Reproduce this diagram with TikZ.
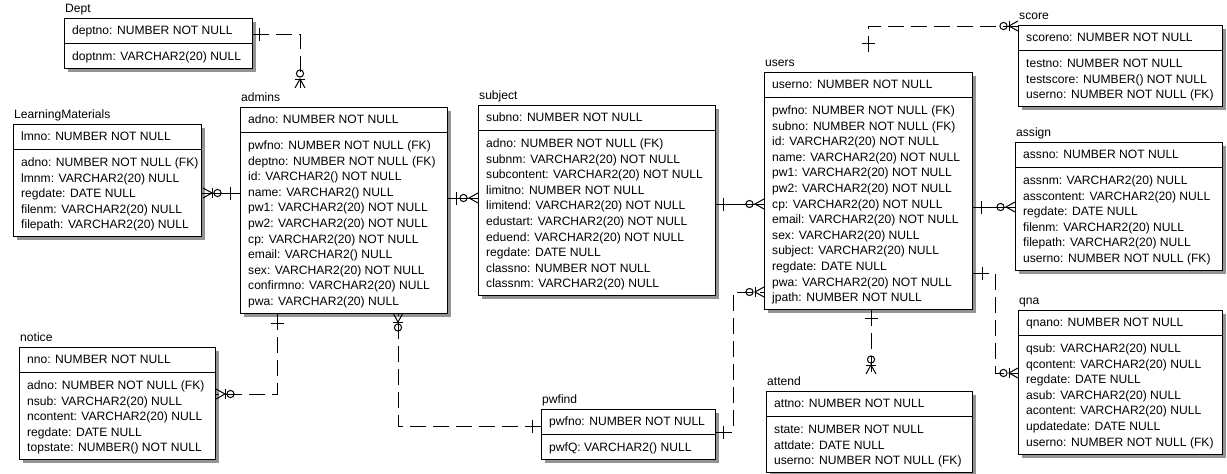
\documentclass[tikz,border=0pt]{standalone}
\usepackage{fontspec}
\setmainfont{Liberation Sans}
\tikzset{
  ebox/.style={draw=black, line width=1pt, fill=white, inner sep=0pt, anchor=north west},
  eshadow/.style={fill=black!42},
  etext/.style={font=\fontsize{12.1}{15.6}\selectfont, inner sep=0pt, anchor=base west, text=black},
  rel/.style={draw=black, line width=1pt},
  nonid/.style={rel, dash pattern=on 16pt off 7pt},
  sym/.style={draw=black, line width=1pt},
}
% entity: #1 id, #2 title, #3 left, #4 top, #5 right, #6 rows, #7 header, #8 body
\newcommand\erent[8]{%
  \pgfmathsetmacro\eB{#4+50+(#6-1)*15.6}%
  \pgfmathsetmacro\eW{#5-#3}%
  \pgfmathsetmacro\eH{\eB-#4}%
  \fill[eshadow] (#3+4,#4+4) rectangle (#5+4,\eB+4);
  \node[ebox, minimum width=\eW pt, minimum height=\eH pt] (#1) at (#3,#4) {};
  \draw[line width=1pt] (#3,#4+25) -- (#5,#4+25);
  \node[etext] (#1-t) at (#3+1,#4-6) {#2};
  \node[etext] (#1-h) at (#3+8,#4+16.9) {#7};
  \foreach \t [count=\i] in {#8} {\node[etext] (#1-\i) at (#3+8,#4+42.4+\i*15.6-15.6) {\t};}
}
% one-end tick on a horizontal line / vertical line
\newcommand\tickH[2]{\draw[sym] (#1,#2-6.5) -- (#1,#2+6.5);}
\newcommand\tickV[2]{\draw[sym] (#1-6.5,#2) -- (#1+6.5,#2);}
% many-end: #1 edge x, #2 y, #3 sign, #4 bar (1/0)
\newcommand\crowH[4]{%
  \draw[sym] (#1,#2-5) -- (#1+#3*9,#2) -- (#1,#2+5);
  \ifnum#4=1 \draw[sym] (#1+#3*9,#2-5) -- (#1+#3*9,#2+5);\fi
  \draw[sym] (#1+#3*14.5,#2) circle (3.6);}
\newcommand\crowV[4]{%
  \draw[sym] (#1-5,#2) -- (#1,#2+#3*9) -- (#1+5,#2);
  \ifnum#4=1 \draw[sym] (#1-5,#2+#3*9) -- (#1+5,#2+#3*9);\fi
  \draw[sym] (#1,#2+#3*14.5) circle (3.6);}
\begin{document}
\begin{tikzpicture}[x=1pt,y=-1pt]
\useasboundingbox (0,0) rectangle (1227,474);
\fill[white] (0,0) rectangle (1227,474);

\erent{dept}{Dept}{64}{18}{252}{1}{deptno: NUMBER NOT NULL}{doptnm: VARCHAR2(20) NULL}
\erent{lm}{LearningMaterials}{13}{124}{201}{5}{lmno: NUMBER NOT NULL}{adno: NUMBER NOT NULL (FK), lmnm: VARCHAR2(20) NULL, regdate: DATE NULL, filenm: VARCHAR2(20) NULL, filepath: VARCHAR2(20) NULL}
\erent{admins}{admins}{240}{107}{447}{11}{adno: NUMBER NOT NULL}{pwfno: NUMBER NOT NULL (FK), deptno: NUMBER NOT NULL (FK), id: VARCHAR2() NOT NULL, name: VARCHAR2() NULL, pw1: VARCHAR2(20) NOT NULL, pw2: VARCHAR2(20) NOT NULL, cp: VARCHAR2(20) NOT NULL, email: VARCHAR2() NULL, sex: VARCHAR2(20) NOT NULL, confirmno: VARCHAR2(20) NULL, pwa: VARCHAR2(20) NULL}
\erent{notice}{notice}{19}{347}{215}{5}{nno: NUMBER NOT NULL}{adno: NUMBER NOT NULL (FK), nsub: VARCHAR2(20) NULL, ncontent: VARCHAR2(20) NULL, regdate: DATE NULL, topstate: NUMBER() NOT NULL}
\erent{subject}{subject}{478}{105}{715}{10}{subno: NUMBER NOT NULL}{adno: NUMBER NOT NULL (FK), subnm: VARCHAR2(20) NOT NULL, subcontent: VARCHAR2(20) NOT NULL, limitno: NUMBER NOT NULL, limitend: VARCHAR2(20) NOT NULL, edustart: VARCHAR2(20) NOT NULL, eduend: VARCHAR2(20) NOT NULL, regdate: DATE NULL, classno: NUMBER NOT NULL, classnm: VARCHAR2(20) NULL}
\erent{users}{users}{764}{72}{972}{13}{userno: NUMBER NOT NULL}{pwfno: NUMBER NOT NULL (FK), subno: NUMBER NOT NULL (FK), id: VARCHAR2(20) NOT NULL, name: VARCHAR2(20) NOT NULL, pw1: VARCHAR2(20) NOT NULL, pw2: VARCHAR2(20) NOT NULL, cp: VARCHAR2(20) NOT NULL, email: VARCHAR2(20) NOT NULL, sex: VARCHAR2(20) NULL, subject: VARCHAR2(20) NULL, regdate: DATE NULL, pwa: VARCHAR2(20) NOT NULL, jpath: NUMBER NOT NULL}
\erent{score}{score}{1018}{25}{1222}{3}{scoreno: NUMBER NOT NULL}{testno: NUMBER NOT NULL, testscore: NUMBER() NOT NULL, userno: NUMBER NOT NULL (FK)}
\erent{assign}{assign}{1015}{142}{1222}{6}{assno: NUMBER NOT NULL}{assnm: VARCHAR2(20) NULL, asscontent: VARCHAR2(20) NULL, regdate: DATE NULL, filenm: VARCHAR2(20) NULL, filepath: VARCHAR2(20) NULL, userno: NUMBER NOT NULL (FK)}
\erent{qna}{qna}{1018}{310}{1222}{7}{qnano: NUMBER NOT NULL}{qsub: VARCHAR2(20) NULL, qcontent: VARCHAR2(20) NULL, regdate: DATE NULL, asub: VARCHAR2(20) NULL, acontent: VARCHAR2(20) NULL, updatedate: DATE NULL, userno: NUMBER NOT NULL (FK)}
\erent{pwfind}{pwfind}{541}{409}{715}{1}{pwfno: NUMBER NOT NULL}{pwfQ: VARCHAR2() NULL}
\erent{attend}{attend}{766}{391}{972}{3}{attno: NUMBER NOT NULL}{state: NUMBER NOT NULL, attdate: DATE NULL, userno: NUMBER NOT NULL (FK)}

% free ends at the top of entity titles
\coordinate (adminsEnd) at (300,88);
\coordinate (usersTop) at (868,52);
\coordinate (attendEnd) at (871,374);

% Dept - admins
\draw[nonid] (dept.east |- 0,34) -- (300,34) -- (adminsEnd);
\tickH{259}{34}
\crowV{300}{88}{-1}{1}
% LearningMaterials - admins
\draw[rel] (lm.east |- 0,193) -- (admins.west |- 0,193);
\tickH{230}{193}
\crowH{203}{193}{1}{1}
% admins - subject
\draw[rel] (admins.east |- 0,198) -- (subject.west |- 0,198);
\tickH{456}{198}
\crowH{478}{198}{-1}{0}
% subject - users
\draw[rel] (subject.east |- 0,204) -- (users.west |- 0,204);
\tickH{723}{204}
\crowH{764}{204}{-1}{0}
% admins - notice
\draw[nonid] (admins.south -| 277,0) -- (277,394) -- (notice.east |- 0,394);
\tickV{277}{323}
\crowH{216}{394}{1}{1}
% admins - pwfind
\draw[nonid] (pwfind.west |- 0,426) -- (398,426) -- (admins.south -| 398,0);
\tickH{532}{426}
\crowV{398}{313}{1}{1}
% pwfind - users
\draw[nonid] (pwfind.east |- 0,432) -- (733,432) -- (733,292) -- (users.west |- 0,292);
\tickH{723}{432}
\crowH{764}{292}{-1}{1}
% users - score
\draw[nonid] (usersTop) -- (868,26) -- (score.west |- 0,26);
\tickV{868}{43}
\crowH{1018}{26}{-1}{1}
% users - assign
\draw[rel] (users.east |- 0,207) -- (assign.west |- 0,207);
\tickH{981}{207}
\crowH{1015}{207}{-1}{0}
% users - qna
\draw[nonid] (users.east |- 0,273) -- (995,273) -- (995,373) -- (qna.west |- 0,373);
\tickH{982}{273}
\crowH{1018}{373}{-1}{1}
% users - attend
\draw[nonid] (users.south -| 871,0) -- (attendEnd);
\tickV{871}{318}
\crowV{871}{374}{-1}{1}
\end{tikzpicture}
\end{document}
